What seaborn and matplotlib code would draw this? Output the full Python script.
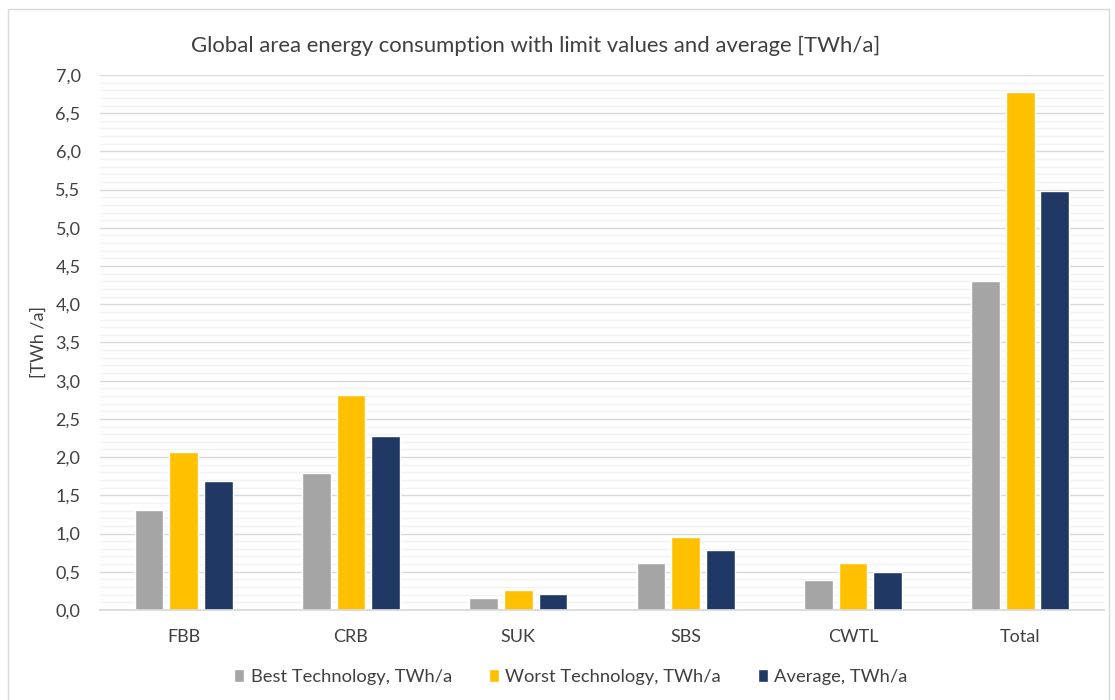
"""Global area energy consumption: best / worst technology and average."""

import matplotlib.pyplot as plt
import pandas as pd
import seaborn as sns
from matplotlib.patches import Rectangle
from matplotlib.ticker import FuncFormatter, MultipleLocator

categories = ["FBB", "CRB", "SUK", "SBS", "CWTL", "Total"]
best_tech = [1.31, 1.79, 0.16, 0.61, 0.39, 4.31]
worst_tech = [2.07, 2.81, 0.26, 0.96, 0.62, 6.78]
average = [1.69, 2.28, 0.21, 0.78, 0.50, 5.48]

series_names = [
    "Best Technology, TWh/a",
    "Worst Technology, TWh/a",
    "Average, TWh/a",
]
palette = dict(zip(series_names, ["#A5A5A5", "#FFC000", "#203864"]))

df = pd.DataFrame(
    {
        "categoria": categories * 3,
        "serie": [s for s in series_names for _ in categories],
        "valor": best_tech + worst_tech + average,
    }
)

sns.set_theme(style="white")
plt.rcParams["font.family"] = ["Lato", "DejaVu Sans"]

fig = plt.figure(figsize=(11.15, 7.0), dpi=100)
ax = fig.add_axes([0.0897, 0.1286, 0.9003, 0.7643])

sns.barplot(
    data=df,
    x="categoria",
    y="valor",
    hue="serie",
    hue_order=series_names,
    order=categories,
    palette=palette,
    width=0.62,
    gap=0.17,
    saturation=1,
    ax=ax,
)

ax.set_ylim(0, 7.0)
ax.yaxis.set_major_locator(MultipleLocator(0.5))
ax.yaxis.set_minor_locator(MultipleLocator(0.1))
ax.yaxis.set_major_formatter(
    FuncFormatter(lambda v, _: f"{v:.1f}".replace(".", ","))
)
ax.grid(axis="y", which="major", color="#D9D9D9", linewidth=1.0)
ax.grid(axis="y", which="minor", color="#F2F2F2", linewidth=1.0)
ax.set_axisbelow(True)
for side in ["top", "right", "left"]:
    ax.spines[side].set_visible(False)
ax.spines["bottom"].set_color("#D9D9D9")
ax.tick_params(axis="both", which="both", length=0, labelsize=13,
               colors="#404040")
ax.tick_params(axis="y", pad=14)
ax.tick_params(axis="x", pad=14)

ax.set_xlabel("")
ax.set_ylabel("[TWh /a]", fontsize=13, color="#404040", labelpad=6)
fig.text(0.48, 0.935, "Global area energy consumption with limit values and "
         "average [TWh/a]", ha="center", va="center", fontsize=15.9,
         color="#404040")

ax.legend(
    loc="center",
    bbox_to_anchor=(0.469, -0.125),
    ncol=3,
    frameon=False,
    fontsize=13.2,
    handlelength=0.55,
    handleheight=0.7,
    handletextpad=0.35,
    columnspacing=2.0,
    labelcolor="#404040",
)

# moldura cinza do gráfico
fig.patches.append(
    Rectangle((0.007, -0.01), 0.988, 0.997, transform=fig.transFigure,
              fill=False, edgecolor="#D9D9D9", linewidth=1.0)
)

fig.savefig("out.png", dpi=100)
